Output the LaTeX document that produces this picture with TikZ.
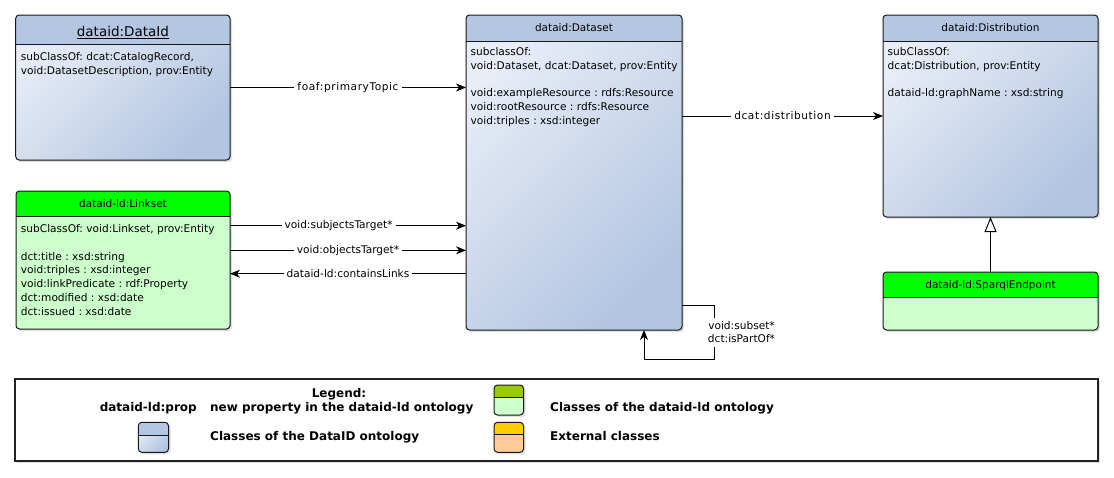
\documentclass[tikz,border=0pt]{standalone}
\usepackage{fontspec}
\setmainfont{DejaVu Sans}
\usetikzlibrary{arrows.meta,shadows,fit,calc}
\definecolor{bluehead}{HTML}{B4C7E2}
\definecolor{bluelight}{HTML}{E8EDF7}
\definecolor{bluedark}{HTML}{B2C5E1}
\definecolor{greenhead}{HTML}{00FF00}
\definecolor{greenbody}{HTML}{CCFFCC}
\definecolor{olivehead}{HTML}{99CC00}
\definecolor{orangehead}{HTML}{FFCC00}
\definecolor{orangebody}{HTML}{FFCC99}
\definecolor{edgecol}{HTML}{181818}
\definecolor{legendline}{HTML}{222222}

\newcommand\classdecor[3]{%
  \begin{scope}
    \clip[rounded corners=3.5pt] (#1.south west) rectangle (#1.north east);
    \fill[#3] (#1.north west) rectangle (#1.east |- 0,#2);
  \end{scope}
  \draw[classline] (#1.west |- 0,#2) -- (#1.east |- 0,#2);
  \draw[classline, rounded corners=3.5pt] (#1.south west) rectangle (#1.north east);
}

\begin{document}
\frenchspacing
\begin{tikzpicture}[x=1pt,y=-1pt,
  classline/.style={draw=edgecol, line width=1pt},
  classnode/.style={inner sep=0pt, outer sep=0pt, rounded corners=3.5pt,
    drop shadow={shadow xshift=2pt, shadow yshift=-2pt, opacity=0.25}},
  bluebody/.style={left color=bluelight, right color=bluedark, shading angle=45},
  greenfill/.style={fill=greenbody},
  titlef/.style={anchor=base, inner sep=0pt, font=\fontsize{10.5}{12}\selectfont},
  bodyt/.style={anchor=north west, inner sep=0pt, align=left,
    font=\fontsize{10.6}{13.8}\selectfont, execute at begin node={\rule{0pt}{10pt}}},
  elabel/.style={fill=white, inner xsep=3pt, inner ysep=2pt, font=\fontsize{10.6}{13.8}\selectfont},
  widelabel/.style={font=\fontsize{10.6}{13.8}\selectfont\addfontfeatures{LetterSpace=5.5}},
  assoc/.style={draw=black, line width=1pt, -{Stealth[length=10pt, width=8pt, inset=3pt]}},
  gen/.style={draw=black, line width=1pt, -{Triangle[open, length=15pt, width=12pt, fill=white]}},
  legtext/.style={inner sep=0pt, font=\fontsize{12}{14}\selectfont\bfseries},
]
\useasboundingbox (0,0) rectangle (1114,477);

% ---------- classes ----------
\node[classnode, bluebody, fit={(15.7,15) (230,160)}] (dataid) {};
\classdecor{dataid}{44}{bluehead}
\node[titlef, font=\fontsize{13.5}{16}\selectfont] (dataidT) at (122.9,36.5) {\underline{dataid:DataId}};
\node[bodyt] (dataidB) at (20.7,52) {subClassOf: dcat:CatalogRecord,\\void:DatasetDescription, prov:Entity};

\node[classnode, bluebody, fit={(466,15) (682,330)}] (dataset) {};
\classdecor{dataset}{41.7}{bluehead}
\node[titlef] (datasetT) at (574,31.7) {dataid:Dataset};
\node[bodyt] (datasetB) at (470.5,47.3) {subclassOf:\\void:Dataset, dcat:Dataset, prov:Entity\\[13.8pt]void:exampleResource : rdfs:Resource\\void:rootResource : rdfs:Resource\\void:triples : xsd:integer};

\node[classnode, bluebody, fit={(883,15) (1098,217)}] (distribution) {};
\classdecor{distribution}{41.7}{bluehead}
\node[titlef] (distributionT) at (990.5,31.7) {dataid:Distribution};
\node[bodyt] (distributionB) at (887.5,47.3) {subClassOf:\\dcat:Distribution, prov:Entity\\[13.8pt]dataid-ld:graphName : xsd:string};

\node[classnode, greenfill, fit={(16,191) (230,329)}] (linkset) {};
\classdecor{linkset}{216}{greenhead}
\node[titlef] (linksetT) at (123,207.7) {dataid-ld:Linkset};
\node[bodyt] (linksetB) at (20.7,224.3) {subClassOf: void:Linkset, prov:Entity\\[13.8pt]dct:title : xsd:string\\void:triples : xsd:integer\\void:linkPredicate : rdf:Property\\dct:modified : xsd:date\\dct:issued : xsd:date};

\node[classnode, greenfill, fit={(883,272) (1098,330)}] (sparql) {};
\classdecor{sparql}{297}{greenhead}
\node[titlef] (sparqlT) at (990.5,288.7) {dataid-ld:SparqlEndpoint};

% ---------- connectors ----------
\draw[assoc] (dataid.east) -- node[elabel, widelabel] (lblfoaf) {foaf:primaryTopic} (dataid.east -| dataset.west);
\draw[assoc] (distribution.west -| dataset.east) -- node[elabel, widelabel] (lbldist) {dcat:distribution} (distribution.west);

\coordinate (ls1) at ($(linkset.north east)+(0,34.7)$);
\coordinate (ls2) at ($(linkset.north east)+(0,59.3)$);
\coordinate (ls3) at ($(linkset.north east)+(0,82.7)$);
\draw[assoc] (ls1) -- node[elabel, pos=0.46] (lblsubj) {void:subjectsTarget*} (ls1 -| dataset.west);
\draw[assoc] (ls2) -- node[elabel] (lblobj) {void:objectsTarget*} (ls2 -| dataset.west);
\draw[assoc] (ls3 -| dataset.west) -- node[elabel] (lblcont) {dataid-ld:containsLinks} (ls3);

\draw[gen] (sparql.north) -- (sparql.north |- distribution.south);

\coordinate (lp0) at ($(dataset.north east)+(0,290)$);
\draw[assoc] (lp0) -- ++(32,0) coordinate (lpA) -- ++(0,54) coordinate (lpB) -- ++(-70,0) coordinate (lpC) -- (lpC |- dataset.south);
\node[elabel, align=center, inner ysep=3.5pt] (lblloop) at ($(lpA)!0.5!(lpB)+(27.5,0)$) {void:subset*\\dct:isPartOf*};

% ---------- legend ----------
\node[draw=legendline, line width=2pt, fill=white, inner sep=0pt, outer sep=0pt, fit={(15,379) (1098,461)},
  drop shadow={shadow xshift=2pt, shadow yshift=-2pt, opacity=0.25}] (legend) {};
\node[legtext, anchor=base] (legtitle) at (339,397) {Legend:};
\node[legtext, anchor=base east] (legprop) at (197,411.5) {dataid-ld:prop};
\node[legtext, anchor=base west] (legpropd) at (210,411.5) {new property in the dataid-ld ontology};

\node[classnode, greenfill, fit={(494,385) (523.5,415)}] (icongreen) {};
\classdecor{icongreen}{397.5}{olivehead}
\node[legtext, anchor=base west] (leggreen) at (550,411.5) {Classes of the dataid-ld ontology};

\node[classnode, bluebody, fit={(138.3,422.3) (168.5,452.3)}] (iconblue) {};
\classdecor{iconblue}{435}{bluehead}
\node[legtext, anchor=base west] (legblue) at (210,440) {Classes of the DataID ontology};

\node[classnode, fill=orangebody, fit={(494,422.3) (523.5,452.3)}] (iconorange) {};
\classdecor{iconorange}{434.6}{orangehead}
\node[legtext, anchor=base west] (legorange) at (550,440) {External classes};
\end{tikzpicture}
\end{document}
